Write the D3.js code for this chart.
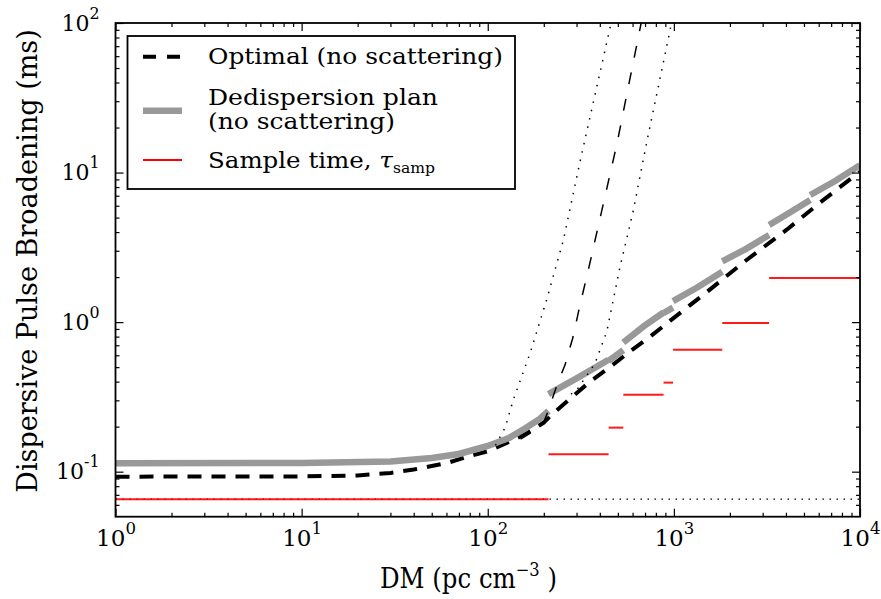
<!DOCTYPE html>
<html>

<style>
    body {
        margin: 0;
        background: #fff;
    }

    svg text {
        font-family: "DejaVu Serif", serif;
        fill: #000;
    }

    .axis path.domain {
        display: none;
    }

    .axis line {
        stroke: #000;
        stroke-width: 1.2px;
    }
</style>

<body>
    <svg id='viz' width='881' height='599'></svg>

<script src="https://cdnjs.cloudflare.com/ajax/libs/d3/7.8.5/d3.min.js"></script>

<script>
    // optimal broadening, no scattering (thick black dashed)
    var optimalDM = [1, 10, 20, 30, 40, 50, 60, 80, 100, 130, 160, 200, 220, 275, 350, 452, 580, 746, 953, 1494, 2406, 4040, 6058, 9171, 10000];
    var optimalT = [0.0926, 0.093, 0.0943, 0.098, 0.1034, 0.109, 0.114, 0.127, 0.137, 0.158, 0.179, 0.213, 0.24, 0.305, 0.395, 0.5, 0.635, 0.8, 1.02, 1.58, 2.55, 4.15, 6.25, 9.35, 10.1];

    // optimal broadening with scattering (thin dashed) and its bounds (dotted)
    var scatDM = [150, 180, 200, 210, 221, 239, 260, 286, 313, 350, 470, 497, 562, 645, 667];
    var scatT = [0.165, 0.19, 0.215, 0.25, 0.301, 0.4, 0.516, 0.78, 1.3, 2.34, 11.8, 16.07, 34.7, 80.9, 100];
    var scatLoDM = [110, 124, 137, 169, 207, 255, 313, 460];
    var scatLoT = [0.15, 0.197, 0.301, 0.621, 1.406, 3.54, 11.8, 100];
    var scatHiDM = [280, 301, 377, 436, 514, 606, 715, 955, 968];
    var scatHiT = [0.33, 0.352, 0.53, 0.863, 2.35, 5.6, 16, 90, 100];

    // dedispersion plan, one list per segment
    var planDM = [
        [1, 10, 30, 50, 70, 100, 130, 160, 190, 212],
        [212, 310, 446],
        [446, 535],
        [535, 690, 880],
        [880, 990],
        [990, 1340, 1820],
        [1820, 2430, 3250],
        [3250, 4200, 5400],
        [5400, 7350, 10000]
    ];
    var planT = [
        [0.1138, 0.1145, 0.117, 0.1235, 0.1313, 0.1485, 0.168, 0.196, 0.225, 0.2544],
        [0.33, 0.43, 0.56],
        [0.55, 0.65],
        [0.73, 0.94, 1.16],
        [1.15, 1.25],
        [1.38, 1.71, 2.17],
        [2.55, 3.08, 3.82],
        [4.46, 5.4, 6.55],
        [7.08, 8.78, 11.2]
    ];

    // sample time steps
    var sampStartDM = [1, 212, 446, 535, 880, 990, 1820, 3250];
    var sampEndDM = [212, 446, 535, 880, 990, 1820, 3250, 10000];
    var sampT = [0.0655, 0.131, 0.197, 0.327, 0.394, 0.654, 0.986, 1.97];

    var xMajor = [1, 10, 100, 1000, 10000];
    var yMajor = [0.1, 1, 10, 100];

    var pLeft = 115.5, pRight = 860, pTop = 23, pBottom = 516.7;

    var svg = d3.select('#viz');

    var x = d3.scaleLog().domain([1, 1e4]).range([pLeft, pRight]);
    var y = d3.scaleLog().domain([0.05, 100]).range([pBottom, pTop]);

    function minorTicks(domain) {
        var out = [];
        for (var e = Math.floor(Math.log10(domain[0])); e < Math.log10(domain[1]); e++) {
            for (var m = 2; m < 10; m++) {
                var v = m * Math.pow(10, e);
                if (v > domain[0] && v < domain[1]) out.push(v);
            }
        }
        return out;
    }

    svg.append('defs').append('clipPath').attr('id', 'plotclip')
        .append('rect')
        .attr('x', pLeft).attr('y', pTop)
        .attr('width', pRight - pLeft).attr('height', pBottom - pTop);

    var plot = svg.append('g').attr('clip-path', 'url(#plotclip)');

    var line = d3.line()
        .x(function(d) { return x(d[0]); })
        .y(function(d) { return y(d[1]); });

    function pairs(xs, ys) {
        return xs.map(function(v, i) { return [v, ys[i]]; });
    }

    // sample time floor carried on as dotted line
    plot.append('path')
        .attr('d', line([[1, sampT[0]], [1e4, sampT[0]]]))
        .attr('fill', 'none')
        .attr('stroke', '#000')
        .attr('stroke-width', 1.3)
        .attr('stroke-dasharray', '1.5,5.5');

    // optimal
    plot.append('path')
        .attr('d', line(pairs(optimalDM, optimalT)))
        .attr('fill', 'none')
        .attr('stroke', '#000')
        .attr('stroke-width', 4)
        .attr('stroke-dasharray', '14,10');

    // plan segments
    plot.selectAll('path.plan')
        .data(planDM)
        .enter()
        .append('path')
        .attr('class', 'plan')
        .attr('d', function(d, i) { return line(pairs(d, planT[i])); })
        .attr('fill', 'none')
        .attr('stroke', '#999')
        .attr('stroke-width', 6.5);

    // scattering curves
    plot.append('path')
        .attr('d', line(pairs(scatDM, scatT)))
        .attr('fill', 'none')
        .attr('stroke', '#000')
        .attr('stroke-width', 1.5)
        .attr('stroke-dasharray', '12,15');

    [[scatLoDM, scatLoT], [scatHiDM, scatHiT]].forEach(function(s) {
        plot.append('path')
            .attr('d', line(pairs(s[0], s[1])))
            .attr('fill', 'none')
            .attr('stroke', '#000')
            .attr('stroke-width', 1.5)
            .attr('stroke-dasharray', '1.5,7');
    });

    // sample time steps
    plot.selectAll('line.samp')
        .data(sampT)
        .enter()
        .append('line')
        .attr('class', 'samp')
        .attr('x1', function(d, i) { return x(sampStartDM[i]); })
        .attr('x2', function(d, i) { return x(sampEndDM[i]); })
        .attr('y1', function(d) { return y(d); })
        .attr('y2', function(d) { return y(d); })
        .attr('stroke', 'red')
        .attr('stroke-opacity', 0.9)
        .attr('stroke-width', 2);

    // axes: ticks inside on all four sides
    function powLabel(sel, fontSize, width) {
        sel.each(function(d) {
            var t = d3.select(this).text(null);
            t.append('tspan').text('10');
            t.append('tspan')
                .attr('dy', '-0.75em')
                .attr('font-size', fontSize * 0.72)
                .text(Math.round(Math.log10(d)));
            if (width) t.attr('textLength', width).attr('lengthAdjust', 'spacingAndGlyphs');
        });
    }

    var gx = svg.append('g').attr('class', 'axis')
        .attr('transform', 'translate(0,' + pBottom + ')')
        .call(d3.axisBottom(x).tickValues(xMajor).tickSize(-8).tickPadding(13).tickFormat(''));
    gx.selectAll('text').attr('font-size', 23).attr('font-family', 'DejaVu Serif');
    powLabel(gx.selectAll('text'), 23);

    svg.append('g').attr('class', 'axis')
        .attr('transform', 'translate(0,' + pBottom + ')')
        .call(d3.axisBottom(x).tickValues(minorTicks(x.domain())).tickSize(-4).tickFormat(''));
    svg.append('g').attr('class', 'axis')
        .attr('transform', 'translate(0,' + pTop + ')')
        .call(d3.axisTop(x).tickValues(xMajor).tickSize(-8).tickFormat(''));
    svg.append('g').attr('class', 'axis')
        .attr('transform', 'translate(0,' + pTop + ')')
        .call(d3.axisTop(x).tickValues(minorTicks(x.domain())).tickSize(-4).tickFormat(''));

    var gy = svg.append('g').attr('class', 'axis')
        .attr('transform', 'translate(' + pLeft + ',0)')
        .call(d3.axisLeft(y).tickValues(yMajor).tickSize(-8).tickPadding(16).tickFormat(''));
    gy.selectAll('text').attr('font-size', 22).attr('font-family', 'DejaVu Serif');
    powLabel(gy.selectAll('text'), 22);

    svg.append('g').attr('class', 'axis')
        .attr('transform', 'translate(' + pLeft + ',0)')
        .call(d3.axisLeft(y).tickValues(minorTicks(y.domain())).tickSize(-4).tickFormat(''));
    svg.append('g').attr('class', 'axis')
        .attr('transform', 'translate(' + pRight + ',0)')
        .call(d3.axisRight(y).tickValues(yMajor).tickSize(-8).tickFormat(''));
    svg.append('g').attr('class', 'axis')
        .attr('transform', 'translate(' + pRight + ',0)')
        .call(d3.axisRight(y).tickValues(minorTicks(y.domain())).tickSize(-4).tickFormat(''));

    svg.append('rect')
        .attr('x', pLeft).attr('y', pTop)
        .attr('width', pRight - pLeft).attr('height', pBottom - pTop)
        .attr('fill', 'none')
        .attr('stroke', '#000')
        .attr('stroke-width', 1.8);

    // axis titles
    var xt = svg.append('text')
        .attr('x', 380)
        .attr('y', 588)
        .attr('font-family', 'Liberation Serif')
        .attr('font-size', 27)
        .attr('textLength', 177)
        .attr('lengthAdjust', 'spacingAndGlyphs');
    xt.append('tspan').text('DM (pc cm');
    xt.append('tspan').attr('dy', -12).attr('font-size', 18).text('\u22123');
    xt.append('tspan').attr('dy', 12).text(' )');

    svg.append('text')
        .attr('transform', 'translate(37,261) rotate(-90)')
        .attr('text-anchor', 'middle')
        .attr('font-size', 27)
        .text('Dispersive Pulse Broadening (ms)');

    // legend
    var legend = svg.append('g');
    legend.append('rect')
        .attr('x', 127.5).attr('y', 36)
        .attr('width', 387.5).attr('height', 153)
        .attr('fill', '#fff')
        .attr('stroke', '#000')
        .attr('stroke-width', 1.8);

    legend.append('line')
        .attr('x1', 143).attr('x2', 182).attr('y1', 56.7).attr('y2', 56.7)
        .attr('stroke', '#000').attr('stroke-width', 4).attr('stroke-dasharray', '13,11');
    legend.append('line')
        .attr('x1', 143).attr('x2', 182).attr('y1', 110.7).attr('y2', 110.7)
        .attr('stroke', '#999').attr('stroke-width', 6.5);
    legend.append('line')
        .attr('x1', 143).attr('x2', 182).attr('y1', 160).attr('y2', 160)
        .attr('stroke', 'red').attr('stroke-width', 2);

    var legendText = [
        ['Optimal (no scattering)', 64, 295],
        ['Dedispersion plan', 104.5, 230],
        ['(no scattering)', 129, 187]
    ];
    legend.selectAll('text.lab')
        .data(legendText)
        .enter()
        .append('text')
        .attr('class', 'lab')
        .attr('x', 208)
        .attr('y', function(d) { return d[1]; })
        .attr('font-size', 22)
        .attr('textLength', function(d) { return d[2]; })
        .attr('lengthAdjust', 'spacingAndGlyphs')
        .text(function(d) { return d[0]; });

    var st = legend.append('text')
        .attr('x', 208).attr('y', 168)
        .attr('font-size', 22)
        .attr('textLength', 227)
        .attr('lengthAdjust', 'spacingAndGlyphs');
    st.append('tspan').text('Sample time, ');
    st.append('tspan').attr('font-style', 'italic').text('\u03c4');
    st.append('tspan').attr('dy', 5).attr('font-size', 14).text('samp');
</script>
</body>
</html>
